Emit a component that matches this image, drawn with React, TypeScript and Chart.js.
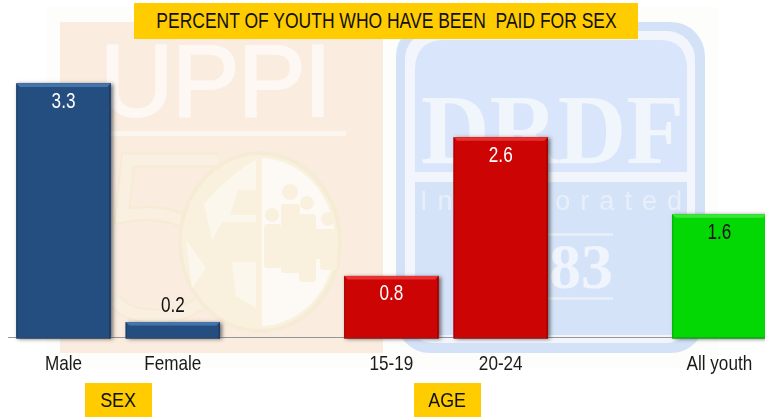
import React, { useEffect, useRef } from "react";
import { Chart, registerables } from "chart.js";

Chart.register(...registerables);

const titleText = "PERCENT OF YOUTH WHO HAVE BEEN  PAID FOR SEX";
const categories = ["Male", "Female", "", "15-19", "20-24", "", "All youth"];
const values = [3.3, 0.2, null, 0.8, 2.6, null, 1.6];
const barColors = ["#254e80", "#254e80", "", "#cc0404", "#cc0404", "", "#03d805"];
const bevelTop = ["#4474ad", "#4474ad", "", "#e83232", "#e83232", "", "#3be638"];
const bevelSide = ["#1c3d66", "#1c3d66", "", "#a00303", "#a00303", "", "#05aa08"];
const labelColors = ["#ffffff", "#111111", "", "#ffffff", "#ffffff", "", "#111111"];
const FONT = '"Liberation Sans", Arial, sans-serif';
const SQUEEZE_TICKS = 0.815;
const SQUEEZE_VALUES = 0.78;

// Runs a text-drawing function with its glyphs narrowed, as in the stretched reference.
function withSqueezedText(ctx: any, squeeze: number, draw: () => void) {
  const plain = ctx.fillText;
  ctx.fillText = function (t: string, x: number, y: number) {
    ctx.save();
    ctx.translate(x, y);
    ctx.scale(squeeze, 1);
    plain.call(ctx, t, 0, 0);
    ctx.restore();
  };
  draw();
  delete ctx.fillText;
}

const barFx = {
  id: "barFx",
  beforeDraw(chart: any) {
    const s = chart.scales.x;
    if (!s.__squeezed) {
      s.__squeezed = true;
      const orig = s.drawLabels.bind(s);
      s.drawLabels = (area: any) => withSqueezedText(chart.ctx, SQUEEZE_TICKS, () => orig(area));
    }
  },
  beforeDatasetsDraw(chart: any) {
    const ctx = chart.ctx;
    chart.getDatasetMeta(0).data.forEach((b: any, i: number) => {
      if (values[i] == null) return;
      const l = b.x - b.width / 2;
      ctx.save();
      ctx.shadowColor = "rgba(40,40,40,0.65)";
      ctx.shadowBlur = 4;
      ctx.shadowOffsetX = 2;
      ctx.shadowOffsetY = 1;
      ctx.fillStyle = barColors[i];
      ctx.fillRect(l, b.y, b.width, b.base - b.y);
      ctx.restore();
    });
  },
  afterDatasetsDraw(chart: any) {
    const ctx = chart.ctx;
    chart.getDatasetMeta(0).data.forEach((b: any, i: number) => {
      const v = values[i];
      if (v == null) return;
      const l = b.x - b.width / 2;
      const r = b.x + b.width / 2;
      const bev = 3.5;
      ctx.save();
      ctx.fillStyle = bevelSide[i];
      ctx.fillRect(l, b.y, 1, b.base - b.y + 1);
      ctx.fillRect(r - 1.5, b.y, 1.5, b.base - b.y + 1);
      ctx.fillRect(l, b.base, b.width, 1.2);
      ctx.fillStyle = bevelTop[i];
      ctx.beginPath();
      ctx.moveTo(l, b.y);
      ctx.lineTo(r, b.y);
      ctx.lineTo(r - bev, b.y + bev);
      ctx.lineTo(l + bev, b.y + bev);
      ctx.closePath();
      ctx.fill();
      ctx.restore();

      ctx.save();
      ctx.font = "22px " + FONT;
      ctx.fillStyle = labelColors[i];
      ctx.textAlign = "center";
      ctx.textBaseline = "middle";
      const inside = v >= 0.5;
      withSqueezedText(ctx, SQUEEZE_VALUES, () =>
        ctx.fillText(v.toFixed(1), b.x, inside ? b.y + 18.5 : b.y - 16)
      );
      ctx.restore();
    });
  },
};

function Watermark() {
  return (
    <svg
      width={765}
      height={417}
      style={{ position: "absolute", left: 0, top: 0 }}
      xmlns="http://www.w3.org/2000/svg"
    >
      <defs>
        <filter id="soft">
          <feGaussianBlur stdDeviation="0.7" />
        </filter>
        <clipPath id="globeRight">
          <rect x={262} y={140} width={100} height={200} />
        </clipPath>
      </defs>
      <rect x={46} y={7} width={672} height={361} fill="#fdfdfc" />
      <g filter="url(#soft)">
        <rect x={60} y={22} width={323} height={331} fill="#faecdf" />
        <text
          x={100}
          y={116}
          fontFamily="Liberation Sans"
          fontSize={102}
          fill="#fdf8f3"
          stroke="#fdf8f3"
          strokeWidth={2}
          textLength={232}
          lengthAdjust="spacing"
        >
          UPPI
        </text>
        <rect x={111} y={131} width={235} height={5} fill="#fdf6ee" />
        <path
          d="M218 160 H128 L122 216 C180 205 220 235 220 268 C220 300 185 318 150 316 C135 315 122 310 115 300"
          fill="none"
          stroke="#f6ebd3"
          strokeWidth={15}
        />
        <path
          d="M218 160 H128 L122 216 C180 205 220 235 220 268 C220 300 185 318 150 316 C135 315 122 310 115 300"
          fill="none"
          stroke="#faf0e2"
          strokeWidth={11}
        />
        <ellipse cx={260} cy={242} rx={80} ry={89} fill="#f9f1de" stroke="#f6ecd6" strokeWidth={4} />
        <ellipse cx={260} cy={242} rx={75} ry={84} fill="#fdfaf6" clipPath="url(#globeRight)" />
        <path
          d="M204 204 Q232 172 256 160 V190 H238 L230 215 H256 V222 H222 L212 240 Z M232 262 H256 V308 L236 296 Z M186 240 L206 268 L192 288 Z"
          fill="#fcf7ec"
        />
        <g fill="#f9f1de">
          <circle cx={272} cy={215} r={7} />
          <rect x={264} y={224} width={17} height={44} rx={3} />
          <circle cx={290} cy={192} r={8} />
          <rect x={281} y={204} width={19} height={69} rx={3} />
          <circle cx={307} cy={203} r={7} />
          <rect x={299} y={214} width={17} height={68} rx={3} />
          <circle cx={328} cy={219} r={7} />
          <rect x={320} y={229} width={17} height={41} rx={3} />
          <rect x={264} y={229} width={73} height={30} />
        </g>

        <rect x={396} y={22} width={309} height={331} rx={34} fill="#d4e2f8" />
        <rect x={405} y={31} width={290} height={312} rx={28} fill="#f2f5fc" />
        <path d="M415 172 V70 Q415 40 445 40 H660 Q687 40 687 70 V172 Z" fill="#d9e5fa" />
        <path d="M415 182 H687 V315 Q687 335 667 335 H437 Q415 335 415 315 Z" fill="#d5e3f9" />
        <text
          x={421}
          y={163}
          fontFamily="Liberation Serif"
          fontWeight={700}
          fontSize={100}
          fill="#f1f5fc"
          textLength={263}
          lengthAdjust="spacingAndGlyphs"
        >
          DRDF
        </text>
        <text
          x={420}
          y={210}
          fontFamily="Liberation Sans"
          fontSize={27}
          fill="#e9eff9"
          textLength={262}
          lengthAdjust="spacing"
        >
          Incorporated
        </text>
        <rect x={480} y={233} width={133} height={3} fill="#e7eefa" />
        <rect x={480} y={297} width={133} height={3} fill="#e7eefa" />
        <text
          x={613}
          y={288}
          textAnchor="end"
          fontFamily="Liberation Serif"
          fontWeight={700}
          fontSize={64}
          fill="#f0f4fc"
        >
          1983
        </text>
      </g>
    </svg>
  );
}

const boxStyle: React.CSSProperties = {
  position: "absolute",
  background: "#ffcc00",
  color: "#111",
  display: "flex",
  alignItems: "center",
  justifyContent: "center",
  whiteSpace: "pre",
  fontFamily: FONT,
};

export default function App() {
  const ref = useRef<HTMLCanvasElement>(null);

  useEffect(() => {
    document.body.style.margin = "0";
    document.documentElement.style.overflow = "hidden";
    const chart = new Chart(ref.current!, {
      type: "bar",
      data: {
        labels: categories,
        datasets: [
          {
            data: values as any,
            backgroundColor: barColors,
            barPercentage: 0.862,
            categoryPercentage: 1,
            borderWidth: 0,
          },
        ],
      },
      options: {
        responsive: false,
        animation: false,
        events: [],
        layout: { padding: { left: 8.9, right: 1, top: 29.5, bottom: 0 } },
        plugins: {
          legend: { display: false },
          title: { display: false },
          tooltip: { enabled: false },
        },
        scales: {
          x: {
            grid: { display: false, drawTicks: false },
            border: { display: true, color: "#969696", width: 1 },
            afterFit(scale: any) {
              scale.height = 79.5;
            },
            ticks: {
              color: "#1a1a1a",
              font: { family: FONT, size: 21 },
              padding: 14,
              autoSkip: false,
              maxRotation: 0,
              minRotation: 0,
            },
          },
          y: { display: false, min: 0, max: 4 },
        },
      },
      plugins: [barFx],
    });
    return () => chart.destroy();
  }, []);

  return (
    <div
      style={{
        position: "fixed",
        left: 0,
        top: 0,
        width: 765,
        height: 417,
        overflow: "hidden",
        background: "#fff",
      }}
    >
      <Watermark />
      <canvas
        ref={ref}
        width={775}
        height={417}
        style={{ position: "absolute", left: 0, top: 0 }}
      />
      <div style={{ ...boxStyle, left: 134, top: 3, width: 504, height: 36, fontSize: 22 }}>
        <span style={{ display: "inline-block", transform: "scaleX(0.795)" }}>{titleText}</span>
      </div>
      <div style={{ ...boxStyle, left: 85, top: 383, width: 67, height: 34, fontSize: 21 }}>
        <span style={{ display: "inline-block", transform: "scaleX(0.85)" }}>SEX</span>
      </div>
      <div style={{ ...boxStyle, left: 414, top: 383, width: 67, height: 34, fontSize: 21 }}>
        <span style={{ display: "inline-block", transform: "scaleX(0.85)" }}>AGE</span>
      </div>
    </div>
  );
}
